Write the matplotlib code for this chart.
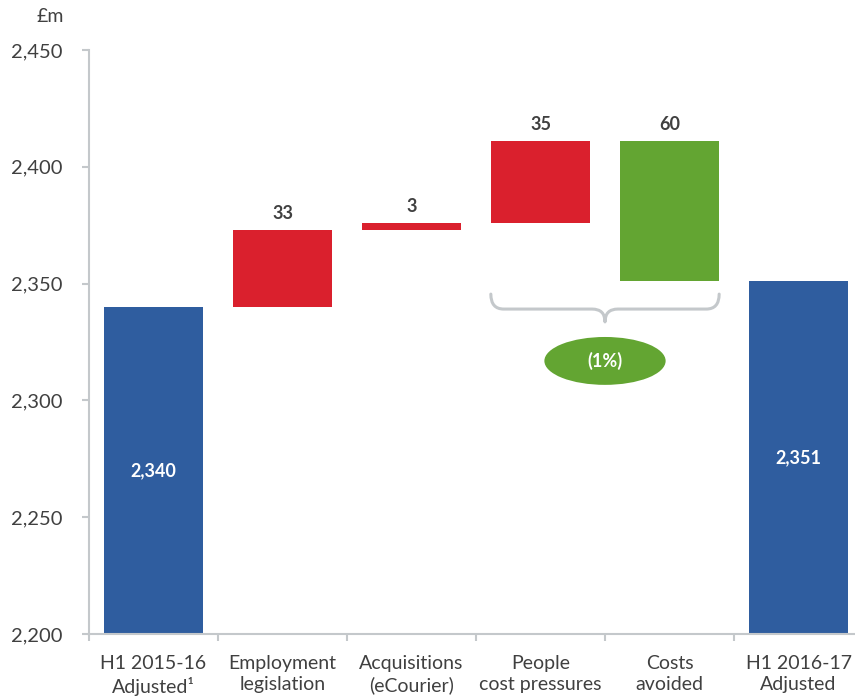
import matplotlib
matplotlib.use("Agg")
import matplotlib.pyplot as plt
from matplotlib.patches import Ellipse, PathPatch
from matplotlib.path import Path

categories = ["H1 2015-16\nAdjusted¹", "Employment\nlegislation", "Acquisitions\n(eCourier)",
              "People\ncost pressures", "Costs\navoided", "H1 2016-17\nAdjusted"]
start_total = 2340
changes = [33, 3, 35, -60]
end_total = 2351
change_labels = ["33", "3", "35", "60"]
total_labels = ["2,340", "2,351"]
yticks = [2200, 2250, 2300, 2350, 2400, 2450]
ytick_labels = ["2,200", "2,250", "2,300", "2,350", "2,400", "2,450"]
brace_label = "(1%)"

BLUE = "#2F5D9F"
RED = "#DA202D"
GREEN = "#63A532"
GRAY = "#C4C8CB"
TEXT = "#404040"
FONT = ["Lato", "DejaVu Sans"]
plt.rcParams['font.family'] = FONT

fig = plt.figure(figsize=(8.55, 6.99), dpi=100)
ax = fig.add_axes([89/855, 65/699, 774/855, 584/699])
ax.set_xlim(-0.5, 5.5)
ax.set_ylim(2200, 2450)

w = 0.77
x = list(range(len(categories)))
ymin = 2200

# totals
ax.bar(x[0], start_total - ymin, bottom=ymin, width=w, color=BLUE)
ax.bar(x[5], end_total - ymin, bottom=ymin, width=w, color=BLUE)
ax.text(x[0], (ymin + start_total) / 2, total_labels[0], ha="center", va="center",
        color="white", fontsize=13, fontweight="bold")
ax.text(x[5], (ymin + end_total) / 2, total_labels[1], ha="center", va="center",
        color="white", fontsize=13, fontweight="bold")

# changes
level = start_total
for i, (c, lab) in enumerate(zip(changes, change_labels)):
    xi = x[i + 1]
    color = RED if c > 0 else GREEN
    lo, hi = (level, level + c) if c > 0 else (level + c, level)
    ax.bar(xi, hi - lo, bottom=lo, width=w, color=color)
    ax.text(xi, hi + 3.5, lab, ha="center", va="bottom", color=TEXT,
            fontsize=13, fontweight="bold")
    level += c

# brace under last two changes
xl = x[3] - w / 2
xr = x[4] + w / 2
xm = (xl + xr) / 2
ytop, ymid, ytip = 2345.5, 2339.1, 2333.6
dx = 0.1
verts = [(xl, ytop), (xl, ymid), (xl + dx, ymid),
         (xm - dx, ymid), (xm, ymid), (xm, ytip),
         (xm, ymid), (xm + dx, ymid),
         (xr - dx, ymid), (xr, ymid), (xr, ytop)]
codes = [Path.MOVETO, Path.CURVE3, Path.CURVE3,
         Path.LINETO, Path.CURVE3, Path.CURVE3,
         Path.CURVE3, Path.CURVE3,
         Path.LINETO, Path.CURVE3, Path.CURVE3]
ax.add_patch(PathPatch(Path(verts, codes), facecolor="none", edgecolor=GRAY, lw=2.2,
                       capstyle="round", joinstyle="round"))
ax.add_patch(Ellipse((xm, 2316.9), 0.94, 20.5, facecolor=GREEN, edgecolor="none"))
ax.text(xm, 2316.9, brace_label, ha="center", va="center", color="white",
        fontsize=13, fontweight="bold")

# axes styling
for s in ["top", "right"]:
    ax.spines[s].set_visible(False)
for s in ["left", "bottom"]:
    ax.spines[s].set_color(GRAY)
    ax.spines[s].set_linewidth(1.5)
ax.spines["left"].set_bounds(2200, 2450)
ax.set_yticks(yticks)
ax.set_yticklabels(ytick_labels)
ax.tick_params(axis="y", length=5, width=1.5, color=GRAY, labelcolor=TEXT,
               labelsize=14.5, pad=14)
ax.set_xticks(x)
ax.set_xticklabels(categories)
ax.set_xticks([i - 0.5 for i in range(len(categories) + 1)], minor=True)
ax.tick_params(axis="x", which="major", length=0, labelcolor=TEXT, labelsize=14, pad=15)
ax.tick_params(axis="x", which="minor", length=5, width=1.5, color=GRAY)
for t in ax.get_xticklabels():
    t.set_linespacing(1.3)

fig.text(64/855, 1 - 16/699, "£m", ha="right", va="center", color=TEXT, fontsize=14)

fig.savefig("out.png", dpi=100)
